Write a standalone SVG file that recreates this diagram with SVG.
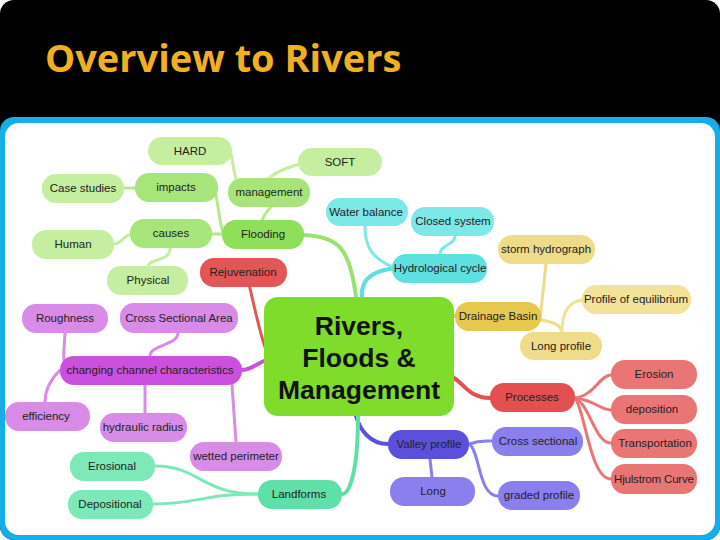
<svg xmlns="http://www.w3.org/2000/svg" width="720" height="540" viewBox="0 0 720 540">
<style>
text{font-family:"Liberation Sans",Arial,sans-serif;font-size:11.5px;fill:#222;text-anchor:middle;dominant-baseline:central}
.c path{fill:none;stroke-linecap:round}
rect{rx:14}
.big{font-size:26.5px;font-weight:bold;fill:#111}
</style>
<rect x="0" y="0" width="720" height="540" rx="0" fill="#000"/>
<text x="45" y="57" style="font-size:38px;font-weight:bold;fill:#f0b020;text-anchor:start;font-family:'Open Sans','Liberation Sans',sans-serif">Overview to Rivers</text>
<rect x="0" y="117" width="720" height="423" rx="0" fill="#14aee8"/>
<rect x="5" y="123" width="710" height="412" rx="0" fill="#fff"/>
<g class="c">
<path d="M300,235 C340,235 350,250 356,297" stroke="#9be070" stroke-width="4"/>
<path d="M262,220 C270,205 275,205 270,207" stroke="#b5e890" stroke-width="3"/>
<path d="M262,194 C260,170 310,160 320,162" stroke="#c5eea0" stroke-width="3"/>
<path d="M240,190 C230,170 235,150 225,145" stroke="#c5eea0" stroke-width="3"/>
<path d="M225,234 C220,230 220,215 215,190" stroke="#b5e890" stroke-width="3"/>
<path d="M222,234 L212,234" stroke="#b5e890" stroke-width="3"/>
<path d="M135,188 L124,188" stroke="#b5e890" stroke-width="3"/>
<path d="M130,234 C120,240 120,244 114,244" stroke="#c5eea0" stroke-width="3"/>
<path d="M170,248 C170,262 150,258 148,266" stroke="#c5eea0" stroke-width="3"/>
<path d="M362,297 C360,275 380,270 395,268" stroke="#5ee0e0" stroke-width="4"/>
<path d="M395,268 C370,258 365,245 365,226" stroke="#7de8e8" stroke-width="3"/>
<path d="M440,254 C440,245 455,245 455,236" stroke="#7de8e8" stroke-width="3"/>
<path d="M454,316 L458,316" stroke="#e6c84e" stroke-width="4"/>
<path d="M540,320 L546,264" stroke="#eedc8a" stroke-width="3"/>
<path d="M540,320 C555,322 560,325 562,332" stroke="#eedc8a" stroke-width="3"/>
<path d="M562,332 C562,310 570,300 585,300" stroke="#f2e29a" stroke-width="3"/>
<path d="M244,260 C252,300 262,340 266,350" stroke="#e45555" stroke-width="3"/>
<path d="M266,360 C255,365 250,370 242,370" stroke="#cc50e0" stroke-width="4"/>
<path d="M65,370 C62,360 65,340 65,333" stroke="#d98be8" stroke-width="3"/>
<path d="M60,370 C50,380 45,390 45,402" stroke="#d98be8" stroke-width="3"/>
<path d="M150,356 C150,345 178,345 178,333" stroke="#d98be8" stroke-width="3"/>
<path d="M145,385 L145,413" stroke="#d98be8" stroke-width="3"/>
<path d="M232,385 L236,442" stroke="#d98be8" stroke-width="3"/>
<path d="M454,378 C465,385 470,398 490,398" stroke="#e45050" stroke-width="4"/>
<path d="M575,398 C595,395 600,375 611,375" stroke="#ea7575" stroke-width="3"/>
<path d="M575,398 C595,400 600,410 611,410" stroke="#ea7575" stroke-width="3"/>
<path d="M575,398 C590,405 595,443 611,443" stroke="#ea7575" stroke-width="3"/>
<path d="M575,398 C585,410 590,479 611,479" stroke="#ea7575" stroke-width="3"/>
<path d="M356,416 C360,430 370,444 388,444" stroke="#5b4fdc" stroke-width="4"/>
<path d="M469,444 C480,440 485,441 492,441" stroke="#8a7fec" stroke-width="3"/>
<path d="M430,459 L432,477" stroke="#8a7fec" stroke-width="3"/>
<path d="M469,444 C480,450 478,496 498,496" stroke="#8a7fec" stroke-width="3"/>
<path d="M358,416 C358,470 350,494 342,494" stroke="#5fe0a8" stroke-width="4"/>
<path d="M258,494 C200,494 200,466 155,466" stroke="#7de8b8" stroke-width="3"/>
<path d="M258,494 C200,494 200,504 153,504" stroke="#7de8b8" stroke-width="3"/>
</g>
<g id="n-hard"><rect x="148" y="137" width="84" height="28" fill="#c5eea0"/><text x="190" y="151">HARD</text></g>
<g id="n-soft"><rect x="298" y="148" width="84" height="28" fill="#c5eea0"/><text x="340" y="162">SOFT</text></g>
<g id="n-case"><rect x="42" y="174" width="82" height="29" fill="#c5eea0"/><text x="83" y="188">Case studies</text></g>
<g id="n-impacts"><rect x="135" y="173" width="83" height="29" fill="#a7e57a"/><text x="176" y="187">impacts</text></g>
<g id="n-mgmt"><rect x="228" y="178" width="82" height="29" fill="#a7e57a"/><text x="269" y="192">management</text></g>
<g id="n-water"><rect x="326" y="198" width="82" height="28" fill="#7de8e8"/><text x="366" y="212">Water balance</text></g>
<g id="n-closed"><rect x="411" y="207" width="83" height="29" fill="#7de8e8"/><text x="453" y="221">Closed system</text></g>
<g id="n-human"><rect x="32" y="230" width="82" height="29" fill="#c5eea0"/><text x="73" y="244">Human</text></g>
<g id="n-causes"><rect x="130" y="219" width="82" height="29" fill="#a7e57a"/><text x="171" y="233">causes</text></g>
<g id="n-flood"><rect x="222" y="220" width="82" height="29" fill="#8fdf5a"/><text x="263" y="234">Flooding</text></g>
<g id="n-storm"><rect x="498" y="235" width="97" height="29" fill="#eedc8a"/><text x="546" y="249">storm hydrograph</text></g>
<g id="n-hydro"><rect x="392" y="254" width="95" height="29" fill="#5ee0e0"/><text x="440" y="268">Hydrological cycle</text></g>
<g id="n-phys"><rect x="107" y="266" width="81" height="29" fill="#c5eea0"/><text x="148" y="280">Physical</text></g>
<g id="n-rejuv"><rect x="200" y="258" width="87" height="29" fill="#e45555"/><text x="243" y="272">Rejuvenation</text></g>
<g id="n-poe"><rect x="582" y="285" width="109" height="29" fill="#f2e29a"/><text x="636" y="299">Profile of equilibrium</text></g>
<g id="n-rough"><rect x="22" y="304" width="86" height="29" fill="#d98be8"/><text x="65" y="318">Roughness</text></g>
<g id="n-csa"><rect x="120" y="303" width="118" height="30" fill="#d98be8"/><text x="179" y="318">Cross Sectional Area</text></g>
<g id="n-centre"><rect x="264" y="297" width="190" height="119" rx="12" fill="#7fdc2a"/><text class="big" x="359" y="326">Rivers,</text><text class="big" x="359" y="358">Floods &amp;</text><text class="big" x="359" y="390">Management</text></g>
<g id="n-drain"><rect x="455" y="302" width="86" height="29" fill="#e6c84e"/><text x="498" y="316">Drainage Basin</text></g>
<g id="n-long-p"><rect x="520" y="332" width="82" height="28" fill="#efdc8a"/><text x="561" y="346">Long profile</text></g>
<g id="n-ccc"><rect x="60" y="356" width="182" height="29" fill="#cc50e0"/><text x="150" y="370">changing channel characteristics</text></g>
<g id="n-erosion"><rect x="611" y="360" width="86" height="29" fill="#ea7575"/><text x="654" y="374">Erosion</text></g>
<g id="n-proc"><rect x="490" y="383" width="85" height="29" fill="#e45050"/><text x="532" y="397">Processes</text></g>
<g id="n-eff"><rect x="5" y="402" width="85" height="29" fill="#d98be8"/><text x="46" y="416">efficiency</text></g>
<g id="n-hr"><rect x="100" y="413" width="87" height="29" fill="#d98be8"/><text x="143" y="427">hydraulic radius</text></g>
<g id="n-dep"><rect x="611" y="395" width="86" height="29" fill="#ea7575"/><text x="652" y="409">deposition</text></g>
<g id="n-valley"><rect x="388" y="430" width="81" height="29" fill="#5b4fdc"/><text x="429" y="444">Valley profile</text></g>
<g id="n-cs"><rect x="492" y="427" width="91" height="29" fill="#8a7fec"/><text x="538" y="441">Cross sectional</text></g>
<g id="n-trans"><rect x="611" y="429" width="86" height="29" fill="#ea7575"/><text x="655" y="443">Transportation</text></g>
<g id="n-wp"><rect x="190" y="442" width="92" height="29" fill="#d98be8"/><text x="236" y="456">wetted perimeter</text></g>
<g id="n-eros"><rect x="70" y="452" width="85" height="29" fill="#7de8b8"/><text x="112" y="466">Erosional</text></g>
<g id="n-hj"><rect x="611" y="464" width="86" height="30" fill="#ea7575"/><text x="654" y="479" textLength="80">Hjulstrom Curve</text></g>
<g id="n-land"><rect x="258" y="480" width="84" height="29" fill="#5fe0a8"/><text x="299" y="494">Landforms</text></g>
<g id="n-long"><rect x="390" y="477" width="85" height="29" fill="#8a7fec"/><text x="433" y="491">Long</text></g>
<g id="n-graded"><rect x="498" y="481" width="82" height="29" fill="#8a7fec"/><text x="539" y="495">graded profile</text></g>
<g id="n-depo"><rect x="68" y="490" width="85" height="29" fill="#7de8b8"/><text x="110" y="504">Depositional</text></g>
</svg>
